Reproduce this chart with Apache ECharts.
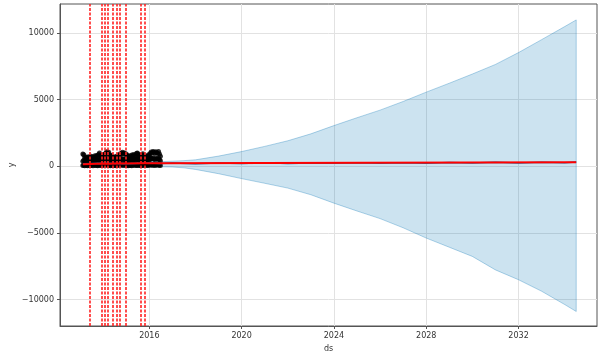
<!DOCTYPE html>
<html><head><meta charset="utf-8">
<script src="https://cdn.jsdelivr.net/npm/echarts@6/dist/echarts.min.js"></script>
<style>html,body{margin:0;padding:0;background:#fff}#c{width:598px;height:355px}</style>
</head><body><div id="c"></div>
<script>
// ---- data ----
const xTicks = [2016, 2020, 2024, 2028, 2032];
const yTicks = [-10000, -5000, 0, 5000, 10000];

// observed points (decimal years, sampled every obsStep)
const obsStart = 2013.12, obsStep = 0.04;
const obsHigh = [920,860,640,700,580, 660,720,600,680,740, 620,700,660,780,720, 800,740,880,1000,820,
  700,780,860,740,920, 1000,1080,960,1040,860, 740,800,680,720,640, 700,620,760,680,800,
  920,860,980,1040,960, 1000,880,920,800,740, 700,780,660,840,760, 880,800,720,960,1000,
  920,800,740,680,860, 940,800,720,640,700, 760,860,800,960,1060, 1000,1100,1040,960,1080,
  1020,980,1100,920,740];
const obsMid = [380,440,340,400,360,420,480,390,450,410,
  370,460,400,510,430,490,380,540,460,400,
  450,520,410,480,560,500,620,480,550,440,
  400,460,380,440,360,410,480,390,440,500,
  460,540,480,570,520,480,550,440,400,460,
  420,490,380,520,450,500,430,400,540,580,
  480,440,400,460,510,530,450,400,380,430,
  480,520,460,550,600,570,620,540,500,580,
  560,520,620,500,420];
const obsLow = [60,90,40,120,70,30,100,80,50,110,
  70,40,130,90,60,100,30,80,120,60,
  90,50,140,70,100,120,80,150,60,90,
  40,110,70,50,100,80,30,120,60,90,
  110,70,130,90,60,140,100,50,80,40,
  120,60,90,30,110,70,130,50,100,80,
  60,120,90,40,70,110,60,100,130,80,
  50,90,120,70,140,100,80,150,60,110,
  90,130,70,100,60];

// trend (red)
const trendX = [2013.12, 2013.45, 2013.95, 2014.2, 2014.6, 2014.95, 2015.7, 2015.8, 2016.48, 2034.5];
const trendY = [150, 170, 200, 190, 210, 200, 220, 215, 220, 300];

// forecast yhat (blue)
const yhatX = [2013.12, 2014, 2015, 2016, 2016.48, 2017, 2018, 2019, 2020, 2021, 2022, 2023, 2024, 2025, 2026, 2027, 2028, 2029, 2030, 2031, 2032, 2033, 2034, 2034.5];
const yhatY = [180, 230, 190, 250, 200, 240, 190, 250, 200, 260, 210, 250, 220, 270, 230, 260, 220, 280, 240, 290, 250, 290, 260, 310];

// uncertainty band
const bandX    = [2013.12, 2016.48, 2017.0, 2017.5, 2018.0, 2019.0, 2020.0, 2021.0, 2022.0, 2023.0, 2024.0, 2025.0, 2026.0, 2027.0, 2028.0, 2029.0, 2030.0, 2031.0, 2032.0, 2033.0, 2034.0, 2034.5];
const bandHigh = [520, 340, 380, 420, 480, 760, 1100, 1490, 1910, 2430, 3050, 3640, 4210, 4860, 5560, 6230, 6920, 7640, 8530, 9500, 10480, 10980];
const bandLow  = [-60, -40, -60, -120, -240, -560, -930, -1280, -1640, -2140, -2770, -3360, -3930, -4620, -5390, -6080, -6770, -7780, -8520, -9380, -10380, -10900];

// significant changepoints
const changepoints = [2013.43, 2013.95, 2014.06, 2014.18, 2014.43, 2014.61, 2014.73, 2014.96, 2015.65, 2015.80];

// ---- chart ----
const obsPoints = [];
[obsHigh, obsMid, obsLow].forEach(arr => arr.forEach((v, i) => obsPoints.push([obsStart + obsStep * i, v])));

const FONT = 'DejaVu Sans';
const chart = echarts.init(document.getElementById('c'), null, {renderer: 'canvas'});
chart.setOption({
  animation: false,
  backgroundColor: '#fff',
  grid: {left: 60, top: 4, right: 1, bottom: 29, containLabel: false, outerBoundsMode: 'none',
    show: true, borderColor: '#555', borderWidth: 1, backgroundColor: 'transparent'},
  xAxis: {
    type: 'value', min: 2012.13, max: 2035.40,
    axisLine: {show: true, onZero: false, lineStyle: {color: '#555'}},
    axisTick: {show: true, customValues: xTicks, length: 3, lineStyle: {color: '#555'}},
    axisLabel: {customValues: xTicks, fontSize: 8, color: '#333', margin: 6, fontFamily: FONT,
      formatter: v => String(v)},
    splitLine: {show: true, lineStyle: {color: '#e2e2e2', width: 1}},
    name: 'ds', nameLocation: 'middle', nameGap: 19, nameMoveOverlap: false,
    nameTextStyle: {fontSize: 8, color: '#333', fontFamily: FONT}
  },
  yAxis: {
    type: 'value', min: -11990, max: 12175,
    axisLine: {show: true, lineStyle: {color: '#555'}},
    axisTick: {show: true, customValues: yTicks, length: 3, lineStyle: {color: '#555'}},
    axisLabel: {customValues: yTicks, fontSize: 8, color: '#333', margin: 6, fontFamily: FONT,
      formatter: v => v < 0 ? '\u2212' + Math.abs(v) : String(v)},
    splitLine: {show: true, lineStyle: {color: '#e2e2e2', width: 1}},
    name: 'y', nameLocation: 'middle', nameGap: 44, nameMoveOverlap: false,
    nameTextStyle: {fontSize: 8, color: '#333', fontFamily: FONT}
  },
  series: [
    {
      type: 'custom', z: 1, silent: true,
      data: bandX.map((x, i) => [x, bandLow[i], bandHigh[i]]),
      encode: {x: 0, y: [1, 2]},
      renderItem: (params, api) => {
        if (params.dataIndex !== 0) return null;
        const pts = [];
        for (let i = 0; i < bandX.length; i++) pts.push(api.coord([bandX[i], bandHigh[i]]));
        for (let i = bandX.length - 1; i >= 0; i--) pts.push(api.coord([bandX[i], bandLow[i]]));
        return {type: 'polygon', shape: {points: pts},
          style: {fill: 'rgba(0,114,178,0.2)', stroke: 'rgba(0,114,178,0.3)', lineWidth: 1}};
      }
    },
    {
      type: 'scatter', z: 3, silent: true, symbolSize: 5,
      itemStyle: {color: '#000'}, data: obsPoints
    },
    {
      type: 'line', z: 4, silent: true, showSymbol: false, symbol: 'none',
      lineStyle: {color: '#0072B2', width: 1.5},
      data: yhatX.map((x, i) => [x, yhatY[i]])
    },
    {
      type: 'line', z: 5, silent: true, showSymbol: false, symbol: 'none',
      lineStyle: {color: '#ff0000', width: 2},
      data: trendX.map((x, i) => [x, trendY[i]]),
      markLine: {
        silent: true, symbol: 'none', label: {show: false},
        lineStyle: {color: '#ff2020', width: 2, type: [3, 1.5], opacity: 0.8},
        data: changepoints.map(c => ({xAxis: c}))
      }
    }
  ]
});
</script>
</body></html>
